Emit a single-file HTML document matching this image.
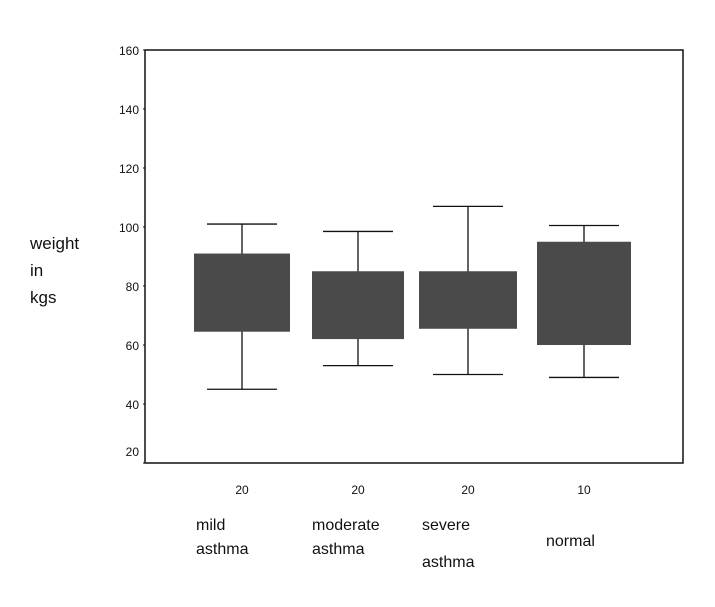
<!DOCTYPE html>
<html><head><meta charset="utf-8"><style>
body{margin:0;background:#fff;width:715px;height:602px;overflow:hidden}
svg text{font-family:"Liberation Sans",sans-serif;fill:#111}
</style></head><body>
<svg id="c" width="715" height="602">
<g id="g"></g>
</svg>
<script>
const categories1=["mild","moderate","severe","normal"];
const categories2=["asthma","asthma","asthma",""];
const counts=["20","20","20","10"];
const whiskerLow=[45,53,50,49];
const q1=[64.5,62,65.5,60];
const q3=[91,85,85,95];
const whiskerHigh=[101,98.5,107,100.5];
const yTicks=[160,140,120,100,80,60,40,20];
const NS="http://www.w3.org/2000/svg";
const g=document.getElementById('g');
const L=145,R=683,T=50,B=463;
const y=v=>T+(160-v)*(B-T)/140;
const centers=[242,358,468,584];
const halfW=[48,46,49,47];
function mk(t,a){const e=document.createElementNS(NS,t);for(const k in a)e.setAttribute(k,a[k]);g.appendChild(e);return e;}
let e=mk('rect',{x:L,y:T,width:R-L,height:B-T,fill:'none',stroke:'#111','stroke-width':1.5});


yTicks.forEach(v=>{
 const t=mk('text',{x:L-6,y:y(v)+(v==20?-7:5),'text-anchor':'end','font-size':12});t.textContent=v;
 
 
 const l=mk('line',{x1:L-2,x2:L,y1:y(v),y2:y(v),stroke:'#111'});
 
 
});
categories1.forEach((c,i)=>{
 const cx=centers[i],hw=halfW[i];
 const w1=mk('line',{x1:cx,x2:cx,y1:y(whiskerHigh[i]),y2:y(whiskerLow[i]),stroke:'#111','stroke-width':1.3});
 
 
 [whiskerHigh[i],whiskerLow[i]].forEach(v=>{
  const cap=mk('line',{x1:cx-35,x2:cx+35,y1:y(v),y2:y(v),stroke:'#111','stroke-width':1.3});
  
  
 });
 const b=mk('rect',{x:cx-hw,y:y(q3[i]),width:2*hw,height:y(q1[i])-y(q3[i]),fill:'#4a4a4a'});
 
 
 const n=mk('text',{x:cx,y:494,'text-anchor':'middle','font-size':12});n.textContent=counts[i];
 
 
 const l1=mk('text',{x:cx-46+(i==3?8:0),y:i==3?546:530,'font-size':16});l1.textContent=c;
 
 
 if(categories2[i]){const l2=mk('text',{x:cx-46,y:i==2?567:554,'font-size':16});l2.textContent=categories2[i];
 
 }
});
["weight","in","kgs"].forEach((s,i)=>{const t=mk('text',{x:30,y:249+i*27,'font-size':17});t.textContent=s;
 
 });
</script>
</body></html>
